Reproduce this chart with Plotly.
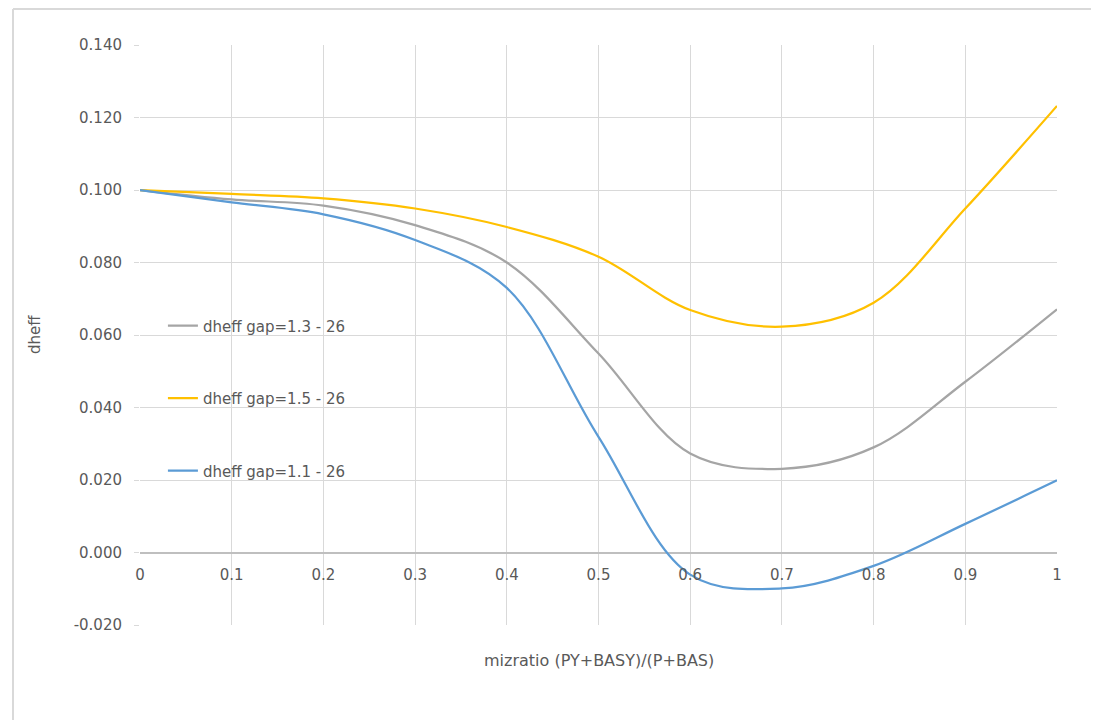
import plotly.graph_objects as go

x_vals = [0, 0.1, 0.2, 0.3, 0.4, 0.5, 0.6, 0.7, 0.8, 0.9, 1.0]
gap13 = [0.100, 0.0974, 0.0957, 0.0903, 0.0800, 0.0549, 0.0273, 0.0231, 0.0290, 0.0471, 0.0671]
gap15 = [0.100, 0.0989, 0.0977, 0.0949, 0.0898, 0.0816, 0.0669, 0.0623, 0.0689, 0.0949, 0.1232]
gap11 = [0.100, 0.0966, 0.0933, 0.0862, 0.0730, 0.0319, -0.0061, -0.0099, -0.0037, 0.0079, 0.0199]

series_names = ["dheff gap=1.3 - 26", "dheff gap=1.5 - 26", "dheff gap=1.1 - 26"]
series_vals = [gap13, gap15, gap11]
series_colors = ["#A5A5A5", "#FFC000", "#5B9BD5"]

x_ticks = [0, 0.1, 0.2, 0.3, 0.4, 0.5, 0.6, 0.7, 0.8, 0.9, 1]
x_ticklabels = ["0", "0.1", "0.2", "0.3", "0.4", "0.5", "0.6", "0.7", "0.8", "0.9", "1"]
y_ticks = [-0.02, 0.0, 0.02, 0.04, 0.06, 0.08, 0.10, 0.12, 0.14]
y_ticklabels = ["-0.020", "0.000", "0.020", "0.040", "0.060", "0.080", "0.100", "0.120", "0.140"]

FONT = "DejaVu Sans"
TXT = "#595959"
GRID = "#D9D9D9"

fig = go.Figure()
for i, (name, vals, col) in enumerate(zip(series_names, series_vals, series_colors)):
    fig.add_trace(go.Scatter(
        x=x_vals, y=vals, mode="lines", name=name,
        line=dict(color=col, width=2.25, shape="spline", smoothing=1.0),
        legendgroup=f"g{i}",
    ))

fig.update_layout(
    width=1091, height=712,
    margin=dict(l=132, r=42, t=37, b=95),
    paper_bgcolor="white", plot_bgcolor="white",
    font=dict(family=FONT, size=15, color=TXT),
    showlegend=True,
    legend=dict(
        x=0.025, y=0.544, xanchor="left", yanchor="top",
        traceorder="grouped", tracegroupgap=50,
        bgcolor="rgba(0,0,0,0)",
        font=dict(family=FONT, size=15, color=TXT),
    ),
    xaxis=dict(
        range=[0, 1], tickvals=x_ticks, ticktext=x_ticklabels,
        showgrid=True, gridcolor=GRID, gridwidth=1,
        zeroline=False, showline=False, ticks="",
        anchor="free", position=0.125,
        ticklabelstandoff=11,
        tickfont=dict(family=FONT, size=15, color=TXT),
    ),
    yaxis=dict(
        range=[-0.02, 0.14], tickvals=y_ticks, ticktext=y_ticklabels,
        showgrid=True, gridcolor=GRID, gridwidth=1,
        zeroline=True, zerolinecolor="#BFBFBF", zerolinewidth=1.5,
        showline=False, ticks="outside", ticklen=5, tickcolor=GRID,
        ticklabelstandoff=9,
        tickfont=dict(family=FONT, size=15, color=TXT),
        domain=[0, 1],
    ),
    annotations=[
        dict(text="mizratio (PY+BASY)/(P+BAS)", xref="paper", yref="paper",
             x=0.5, y=-0.062, xanchor="center", yanchor="middle", showarrow=False,
             font=dict(family=FONT, size=16, color=TXT)),
        dict(text="dheff", xref="paper", yref="paper", textangle=-90,
             x=-0.1145, y=0.5, xanchor="center", yanchor="middle", showarrow=False,
             font=dict(family=FONT, size=15, color=TXT)),
    ],
    shapes=[
        dict(type="line", xref="paper", yref="paper", x0=-0.1385, x1=1.1, y0=1.062, y1=1.062,
             line=dict(color="#D9D9D9", width=2)),
        dict(type="line", xref="paper", yref="paper", x0=-0.1385, x1=-0.1385, y0=1.062, y1=-0.2,
             line=dict(color="#D9D9D9", width=2)),
    ],
)

fig.write_html("out.html")
